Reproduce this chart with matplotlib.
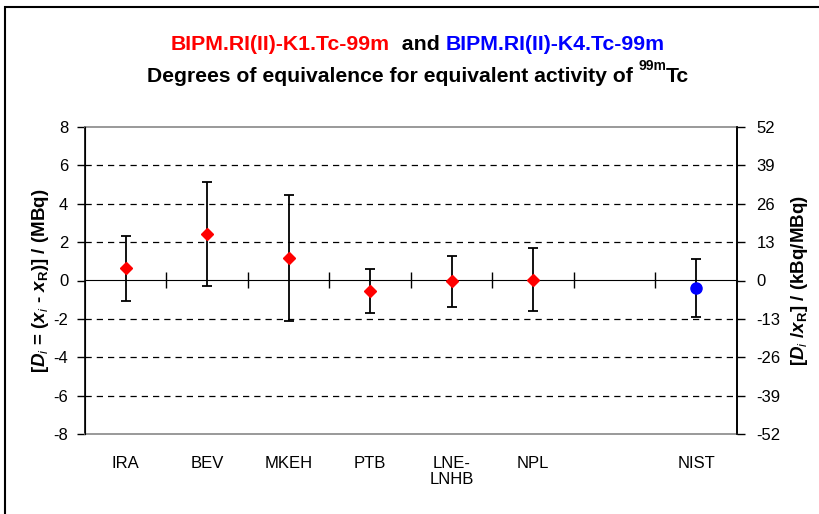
import matplotlib
matplotlib.use('Agg')
import matplotlib.pyplot as plt
from matplotlib.patches import Rectangle

plt.rcParams['font.family'] = ['Liberation Sans', 'DejaVu Sans']
plt.rcParams['axes.unicode_minus'] = False
plt.rcParams['mathtext.fontset'] = 'custom'
plt.rcParams['mathtext.rm'] = 'Liberation Sans:bold'
plt.rcParams['mathtext.it'] = 'Liberation Sans:italic'
plt.rcParams['mathtext.bf'] = 'Liberation Sans:bold'
plt.rcParams['mathtext.bfit'] = 'Liberation Sans:italic:bold'

# data (MBq)
labs = ['IRA', 'BEV', 'MKEH', 'PTB', 'LNE-\nLNHB', 'NPL', '', 'NIST']
k1_labs = ['IRA', 'BEV', 'MKEH', 'PTB', 'LNE-\nLNHB', 'NPL']
k1_di = [0.63, 2.42, 1.16, -0.53, -0.05, 0.05]
k1_u = [1.69, 2.70, 3.27, 1.15, 1.31, 1.64]
k4_labs = ['NIST']
k4_di = [-0.39]
k4_u = [1.53]

pos = {l: i for i, l in enumerate(labs)}
x1 = [pos[l] for l in k1_labs]
x4 = [pos[l] for l in k4_labs]

fig = plt.figure(figsize=(8.2, 5.14), dpi=100)
ax = fig.add_axes([85/820, 1 - 434/514, 652/820, 307/514])

ax.errorbar(x1, k1_di, yerr=k1_u, fmt='D', color='red', ms=6.2, mec='red',
            ecolor='black', elinewidth=1.3, capsize=3.6, capthick=1.3, zorder=3)
ax.errorbar(x4, k4_di, yerr=k4_u, fmt='o', color='blue', ms=8, mec='blue',
            ecolor='black', elinewidth=1.3, capsize=3.6, capthick=1.3, zorder=3)

ax.set_xlim(-0.5, len(labs) - 0.5)
ax.set_ylim(-8, 8)
ax.set_yticks(range(-8, 9, 2))
ax.set_xticks(range(len(labs)))
ax.set_xticklabels(labs, fontsize=12, linespacing=1.1)
ax.tick_params(axis='x', length=0, pad=16)
ax.tick_params(axis='y', direction='out', length=6, width=1, pad=6, labelsize=12)
for yv in [-6, -4, -2, 2, 4, 6]:
    ax.axhline(yv, color='black', lw=0.9, ls=(0, (5, 4)), zorder=1)

for s in ['top', 'bottom']:
    ax.spines[s].set_color('#888888')
    ax.spines[s].set_linewidth(1.2)
ax.spines['left'].set_linewidth(1.2)
ax.spines['right'].set_linewidth(1.2)

# zero line with category separators
zx = ax.secondary_xaxis(0.5)
zx.set_xticks([i + 0.5 for i in range(len(labs) - 1)])
zx.set_xticklabels([])
zx.tick_params(direction='inout', length=11, width=1, color='black')
zx.spines['bottom'].set_color('#777777')
zx.spines['bottom'].set_linewidth(1.2)

ax2 = ax.twinx()
ax2.set_ylim(-52, 52)
ax2.set_yticks(range(-52, 53, 13))
ax2.tick_params(axis='y', direction='out', length=6, width=1, pad=8, labelsize=12)
ax2.spines['right'].set_linewidth(1.2)
ax2.spines['top'].set_visible(False)
ax2.spines['bottom'].set_visible(False)

ax.set_ylabel(r'[$\mathbfit{D}_i$ = ($\mathbfit{x}_i$ - $\mathbfit{x}_{\mathrm{R}}$)] / (MBq)',
              fontsize=13.5, fontweight='bold', labelpad=2)
ax2.set_ylabel(r'[$\mathbfit{D}_i$ /$\mathbfit{x}_{\mathrm{R}}$] / (kBq/MBq)',
               fontsize=13.5, fontweight='bold', labelpad=6)

# title pieces
fig.canvas.draw()
r = fig.canvas.get_renderer()


def line(pieces, xc, y):
    ts = []
    for txt, col, size, dy in pieces:
        t = fig.text(0, y + dy, txt, color=col, fontsize=size, fontweight='bold',
                     va='baseline')
        ts.append(t)
    ws = [t.get_window_extent(r).width / fig.bbox.width for t in ts]
    x = xc - sum(ws) / 2
    for t, w in zip(ts, ws):
        t.set_x(x)
        x += w


line([('BIPM.RI(II)-K1.Tc-99m', 'red', 15.3, 0),
      ('  and ', 'black', 15.3, 0),
      ('BIPM.RI(II)-K4.Tc-99m', 'blue', 15.3, 0)], 418/820, 1 - 50/514)
line([('Degrees of equivalence for equivalent activity of ', 'black', 15.2, 0),
      ('99m', 'black', 10, 12/514),
      ('Tc', 'black', 15.2, 0)], 418/820, 1 - 82/514)

fig.patches.append(Rectangle((5/820, -0.1), 1.2, 0.1 + 1 - 7/514, fill=False,
                             edgecolor='black', lw=1.5, transform=fig.transFigure))

fig.savefig('out.png', dpi=100)
